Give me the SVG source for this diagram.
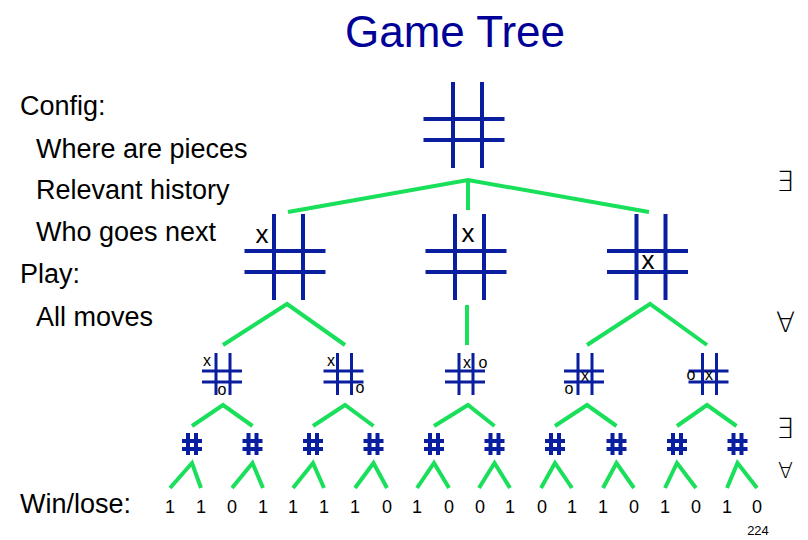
<svg xmlns="http://www.w3.org/2000/svg" xmlns:xlink="http://www.w3.org/1999/xlink" width="808" height="540" viewBox="0 0 808 540">
<style>
text{font-family:"Liberation Sans","DejaVu Sans",sans-serif;fill:#000}
.title{font-size:44px;fill:#000099;text-anchor:middle}
.lbl{font-size:27px}
.leaf{font-size:18px;text-anchor:middle}
.q{font-family:"DejaVu Sans",sans-serif;font-size:28px;font-weight:200}
.m1{font-size:26px;text-anchor:middle}
.m2{font-size:16px;text-anchor:middle}
.bd{stroke:#0a1ea0;stroke-width:4;fill:none}
.bs{stroke:#0a1ea0;stroke-width:3;fill:none}
.bt{stroke:#0a1ea0;stroke-width:4;fill:none}
.e{stroke:#1adf5a;stroke-width:4;fill:none;stroke-linejoin:miter}
</style>
<defs>
<g id="big"><path class="bd" d="M-14.5,0v86M14.5,0v86M-44,37h81M-44,58h81"/></g>
<g id="mid"><path class="bs" d="M-7,0v42M7,0v42M-21,18h40M-21,29h40"/></g>
<g id="sm"><path class="bt" d="M-4,0v22M4,0v22M-10,8h20M-10,16h20"/></g>
</defs>
<rect width="808" height="540" fill="#fff"/>
<text class="title" x="455" y="47">Game Tree</text>
<g id="labels">
<text class="lbl" x="20" y="115">Config:</text>
<text class="lbl" x="36" y="158">Where are pieces</text>
<text class="lbl" x="36" y="199">Relevant history</text>
<text class="lbl" x="36" y="241">Who goes next</text>
<text class="lbl" x="20" y="283">Play:</text>
<text class="lbl" x="36" y="326">All moves</text>
<text class="lbl" x="20" y="513">Win/lose:</text>
</g>
<g id="quantifiers">
<text class="q" x="776" y="191">∃</text>
<text class="q" x="776" y="332">∀</text>
<text class="q" x="776" y="438">∃</text>
<text class="q" x="778" y="478" style="font-size:22px">∀</text>
</g>
<g id="connectors">
<path class="e" d="M288,212L468,180L649,212M468,180V210"/>
<path class="e" d="M223,345L287,304L345,345"/>
<path class="e" d="M467,305V345"/>
<path class="e" d="M587,345L650,304L707,345"/>
<path class="e" d="M192,426L223,405L252.5,426"/>
<path class="e" d="M313,426L345,405L373.5,426"/>
<path class="e" d="M434,426L468,405L494.5,426"/>
<path class="e" d="M555,426L587,405L616.5,426"/>
<path class="e" d="M677,426L707,405L736.5,426"/>
<path class="e" d="M170,488L192,463L201,488"/>
<path class="e" d="M232,488L252.5,463L263,488"/>
<path class="e" d="M293,488L313,463L324,488"/>
<path class="e" d="M355,488L373.5,463L387,488"/>
<path class="e" d="M417,488L434,463L449,488"/>
<path class="e" d="M479,488L494.5,463L510,488"/>
<path class="e" d="M541,488L555,463L572,488"/>
<path class="e" d="M603,488L616.5,463L634,488"/>
<path class="e" d="M665,488L677,463L696,488"/>
<path class="e" d="M727,488L737.5,463L757,488"/>
</g>
<g id="root"><use xlink:href="#big" x="467.5" y="82"/></g>
<g id="n1a"><use xlink:href="#big" x="288.5" y="214"/><text class="m1" x="262" y="243">x</text></g>
<g id="n1b"><use xlink:href="#big" x="469.5" y="214"/><text class="m1" x="468" y="242">x</text></g>
<g id="n1c"><use xlink:href="#big" x="651" y="214"/><text class="m1" x="648" y="269">x</text></g>
<g id="n2a"><use xlink:href="#mid" x="223" y="353"/><text class="m2" x="207" y="366">x</text><text class="m2" x="222" y="395">o</text></g>
<g id="n2b"><use xlink:href="#mid" x="344.5" y="353"/><text class="m2" x="331" y="366">x</text><text class="m2" x="360" y="393">o</text></g>
<g id="n2c"><use xlink:href="#mid" x="466" y="353"/><text class="m2" x="467" y="368">x</text><text class="m2" x="483" y="368">o</text></g>
<g id="n2d"><use xlink:href="#mid" x="585" y="353"/><text class="m2" x="585" y="381">x</text><text class="m2" x="569" y="394">o</text></g>
<g id="n2e"><use xlink:href="#mid" x="709.5" y="353"/><text class="m2" x="691" y="380">o</text><text class="m2" x="709" y="380">x</text></g>
<g id="n3a"><use xlink:href="#sm" x="192" y="433"/></g>
<g id="n3b"><use xlink:href="#sm" x="252.5" y="433"/></g>
<g id="n3c"><use xlink:href="#sm" x="313" y="433"/></g>
<g id="n3d"><use xlink:href="#sm" x="373.5" y="433"/></g>
<g id="n3e"><use xlink:href="#sm" x="434" y="433"/></g>
<g id="n3f"><use xlink:href="#sm" x="494.5" y="433"/></g>
<g id="n3g"><use xlink:href="#sm" x="555" y="433"/></g>
<g id="n3h"><use xlink:href="#sm" x="616.5" y="433"/></g>
<g id="n3i"><use xlink:href="#sm" x="677" y="433"/></g>
<g id="n3j"><use xlink:href="#sm" x="737.5" y="433"/></g>
<g id="leaves">
<text class="leaf" x="170" y="513">1</text>
<text class="leaf" x="201" y="513">1</text>
<text class="leaf" x="232" y="513">0</text>
<text class="leaf" x="263" y="513">1</text>
<text class="leaf" x="293" y="513">1</text>
<text class="leaf" x="324" y="513">1</text>
<text class="leaf" x="355" y="513">1</text>
<text class="leaf" x="387" y="513">0</text>
<text class="leaf" x="417" y="513">1</text>
<text class="leaf" x="449" y="513">0</text>
<text class="leaf" x="480" y="513">0</text>
<text class="leaf" x="510" y="513">1</text>
<text class="leaf" x="542" y="513">0</text>
<text class="leaf" x="572" y="513">1</text>
<text class="leaf" x="603" y="513">1</text>
<text class="leaf" x="634" y="513">0</text>
<text class="leaf" x="665" y="513">1</text>
<text class="leaf" x="696" y="513">0</text>
<text class="leaf" x="727" y="513">1</text>
<text class="leaf" x="757" y="513">0</text>
</g>
<text x="758" y="535" style="font-size:13px;text-anchor:middle">224</text>
</svg>
